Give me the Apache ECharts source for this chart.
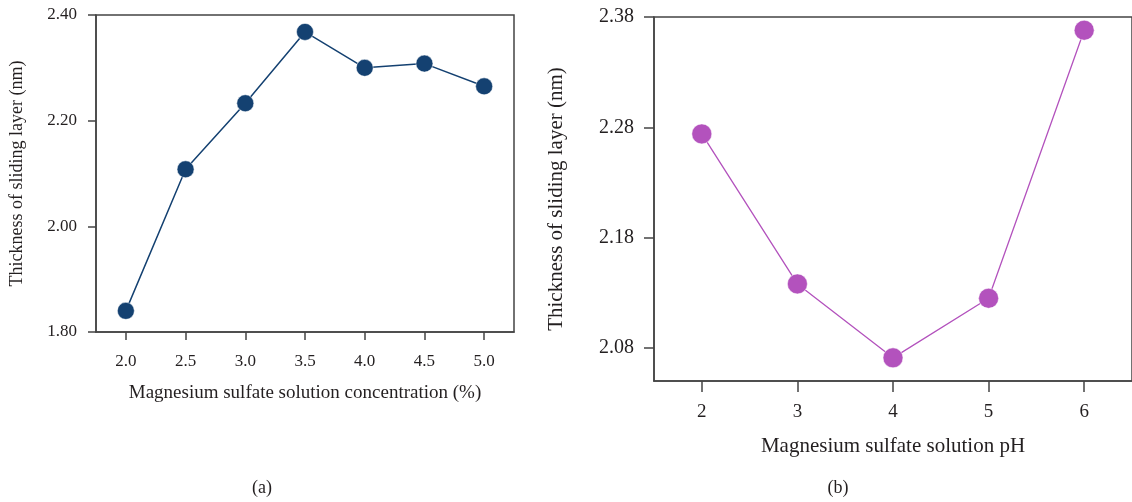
<!DOCTYPE html>
<html>
<head>
<meta charset="utf-8">
<script src="https://cdn.jsdelivr.net/npm/echarts@6/dist/echarts.min.js"></script>
<style>
  html, body { margin: 0; padding: 0; background: #fff; }
  #chart { width: 1132px; height: 502px; }
</style>
</head>
<body>
<div id="chart"></div>
<script>
// (a) thickness vs. MgSO4 concentration
const concentration = [2.0, 2.5, 3.0, 3.5, 4.0, 4.5, 5.0];
const thicknessByConc = [1.840, 2.108, 2.233, 2.368, 2.300, 2.308, 2.265];
const concTicks = [2.0, 2.5, 3.0, 3.5, 4.0, 4.5, 5.0];
const concYTicks = [1.80, 2.00, 2.20, 2.40];

// (b) thickness vs. MgSO4 solution pH
const phValues = [2, 3, 4, 5, 6];
const thicknessByPh = [2.274, 2.138, 2.071, 2.125, 2.368];
const phTicks = [2, 3, 4, 5, 6];
const phYTicks = [2.08, 2.18, 2.28, 2.38];

const FONT = '"Liberation Serif", "DejaVu Serif", serif';
const TEXT = '#231f20';
const AXIS = '#444';

function axisBase(fontSize, tickLen, margin) {
  return {
    type: 'value',
    axisLine: { show: true, lineStyle: { color: AXIS, width: 1.5 } },
    axisTick: { show: true, length: tickLen, lineStyle: { color: AXIS, width: 1.5 } },
    axisLabel: { color: TEXT, fontFamily: FONT, fontSize: fontSize, margin: margin },
    splitLine: { show: false },
    nameTextStyle: { color: TEXT, fontFamily: FONT },
    nameLocation: 'middle'
  };
}

const chart = echarts.init(document.getElementById('chart'), null, { renderer: 'canvas' });

const xA = axisBase(17, 8, 21);
const yA = axisBase(17, 8, 19);
const xB = axisBase(19, 11, 22);
const yB = axisBase(20, 10, 20);

chart.setOption({
  animation: false,
  backgroundColor: '#fff',
  grid: [
    { left: 96, top: 15, width: 418, height: 317, show: true, borderColor: AXIS, borderWidth: 1.5, containLabel: false },
    { left: 654, top: 17, right: -4, bottom: 121, show: true, borderColor: AXIS, borderWidth: 1.5, containLabel: false }
  ],
  xAxis: [
    Object.assign({}, xA, {
      gridIndex: 0, min: 1.75, max: 5.25,
      name: 'Magnesium sulfate solution concentration (%)', nameGap: 52,
      nameTextStyle: { color: TEXT, fontFamily: FONT, fontSize: 19 },
      axisTick: Object.assign({}, xA.axisTick, { customValues: concTicks }),
      axisLabel: Object.assign({}, xA.axisLabel, { customValues: concTicks, formatter: v => v.toFixed(1) })
    }),
    Object.assign({}, xB, {
      gridIndex: 1, min: 1.5, max: 6.5,
      name: 'Magnesium sulfate solution pH', nameGap: 55,
      nameTextStyle: { color: TEXT, fontFamily: FONT, fontSize: 21 },
      axisTick: Object.assign({}, xB.axisTick, { customValues: phTicks }),
      axisLabel: Object.assign({}, xB.axisLabel, { customValues: phTicks, formatter: v => String(v) })
    })
  ],
  yAxis: [
    Object.assign({}, yA, {
      gridIndex: 0, min: 1.8, max: 2.4,
      name: 'Thickness of sliding layer (nm)', nameGap: 70,
      nameTextStyle: { color: TEXT, fontFamily: FONT, fontSize: 18 },
      axisTick: Object.assign({}, yA.axisTick, { customValues: concYTicks }),
      axisLabel: Object.assign({}, yA.axisLabel, { customValues: concYTicks, formatter: v => v.toFixed(2) })
    }),
    Object.assign({}, yB, {
      gridIndex: 1, min: 2.05, max: 2.38,
      name: 'Thickness of sliding layer (nm)', nameGap: 87,
      nameTextStyle: { color: TEXT, fontFamily: FONT, fontSize: 21 },
      axisTick: Object.assign({}, yB.axisTick, { customValues: phYTicks }),
      axisLabel: Object.assign({}, yB.axisLabel, { customValues: phYTicks, formatter: v => v.toFixed(2) })
    })
  ],
  series: [
    {
      type: 'line', xAxisIndex: 0, yAxisIndex: 0,
      data: concentration.map((c, i) => [c, thicknessByConc[i]]),
      symbol: 'circle', symbolSize: 17,
      itemStyle: { color: '#144171', borderColor: '#fff', borderWidth: 0.5 },
      lineStyle: { color: '#144171', width: 1.5 }
    },
    {
      type: 'line', xAxisIndex: 1, yAxisIndex: 1,
      data: phValues.map((p, i) => [p, thicknessByPh[i]]),
      symbol: 'circle', symbolSize: 20,
      itemStyle: { color: '#b352bd', borderColor: '#fff', borderWidth: 0.5 },
      lineStyle: { color: '#b352bd', width: 1.3 }
    }
  ],
  graphic: [
    { type: 'text', x: 262, y: 488, style: { text: '(a)', font: '18px ' + FONT, fill: TEXT, align: 'center', verticalAlign: 'middle' } },
    { type: 'text', x: 838, y: 488, style: { text: '(b)', font: '18px ' + FONT, fill: TEXT, align: 'center', verticalAlign: 'middle' } }
  ]
});
</script>
</body>
</html>
